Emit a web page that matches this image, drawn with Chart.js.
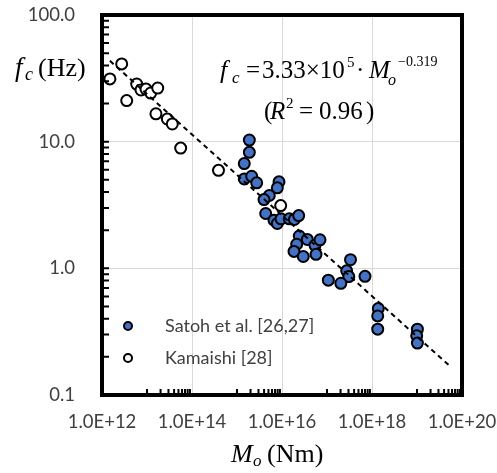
<html>
<head>
<meta charset="UTF-8">
<title>fc vs Mo</title>
<script src="https://cdn.jsdelivr.net/npm/chart.js@4.4.1/dist/chart.umd.min.js"></script>
<style>
body{margin:0;background:#fff;}
#wrap{width:497px;height:473px;}
</style>
</head>
<body>
<div id="wrap"><canvas id="myChart" width="497" height="473"></canvas></div>
<script>
// Satoh et al. [26,27] (filled)
var satohX = [1.88e15, 1.88e15, 1.45e15, 1.45e15, 2.12e15, 2.74e15, 8.58e15, 7.87e15, 5.22e15, 3.98e15,
              4.34e15, 6.64e15, 7.87e15, 9.5e15, 1.45e16, 1.88e16, 2.35e16, 2.42e16, 3.65e16, 2.12e16,
              1.85e16, 2.97e16, 5.41e16, 6.99e16, 5.7e16, 3.33e17, 2.74e17, 3.05e17, 1.07e17, 2.03e17,
              6.99e17, 1.38e18, 1.34e18, 1.34e18, 1.02e19, 9.85e18, 1.02e19];
var satohY = [10.3, 8.24, 6.72, 5.08, 5.33, 4.73, 4.82, 4.32, 3.76, 3.49,
              2.71, 2.40, 2.26, 2.46, 2.46, 2.43, 2.61, 1.80, 1.69, 1.55,
              1.36, 1.24, 1.52, 1.68, 1.29, 1.17, 0.955, 0.861, 0.807, 0.762,
              0.865, 0.482, 0.421, 0.331, 0.331, 0.293, 0.257];
// Kamaishi [28] (open)
var kamaishiX = [1.5e12, 2.74e12, 3.54e12, 5.9e12, 7.36e12, 9.5e12, 1.21e13, 1.73e13, 1.58e13, 2.83e13,
                 3.65e13, 5.6e13, 3.88e14, 9.35e15];
var kamaishiY = [31.3, 41.1, 21.1, 28.5, 25.6, 26.0, 24.2, 26.5, 16.6, 15.1,
                 13.8, 8.9, 5.94, 3.13];
// fitted line end points
var fitX = [1.5e12, 5.4e19];
var fitY = [43.5, 0.169];

var xTicks = [1e12, 1e14, 1e16, 1e18, 1e20];
var yTicks = [0.1, 1, 10, 100];

var toPts = function(xs, ys){
	var out = [];
	for (var i = 0; i < xs.length; i++) out.push({x: xs[i], y: ys[i]});
	return out;
};

var serif = "'Liberation Serif', 'DejaVu Serif', serif";
var sans = "Lato, 'Open Sans', sans-serif";

// each piece: [text, italic, x, baseline y, size]
var drawAt = function(ctx, pieces){
	ctx.textBaseline = "alphabetic";
	ctx.textAlign = "left";
	for (var i = 0; i < pieces.length; i++){
		var p = pieces[i];
		ctx.font = (p[1] ? "italic " : "") + p[4] + "px " + serif;
		ctx.fillText(p[0], p[2], p[3]);
	}
};

var extras = {
	id: "extras",
	afterDraw: function(chart){
		var ctx = chart.ctx;
		var a = chart.chartArea;
		var xs = chart.scales.x, ys = chart.scales.y;
		ctx.save();
		ctx.strokeStyle = "#000";
		// minor ticks y
		ctx.lineWidth = 2;
		ctx.beginPath();
		for (var d = 0.1; d < 100; d *= 10){
			for (var k = 1; k <= 9; k++){
				var py = ys.getPixelForValue(d * k);
				ctx.moveTo(a.left, py);
				ctx.lineTo(a.left + 7, py);
			}
		}
		// minor ticks x
		for (var m = 1e12; m < 1e20; m *= 100){
			for (var j = 1; j <= 9; j++){
				var px = xs.getPixelForValue(m * 10 * j);
				ctx.moveTo(px, a.bottom);
				ctx.lineTo(px, a.bottom - 6);
			}
		}
		ctx.stroke();
		// frame
		ctx.lineWidth = 4;
		ctx.strokeRect(a.left, a.top, a.right - a.left, a.bottom - a.top);

		ctx.fillStyle = "#000";
		// y title
		drawAt(ctx, [["f", true, 15, 76, 27], ["c", true, 25, 80, 18], ["(Hz)", false, 38, 76, 26]]);
		// x title
		drawAt(ctx, [["M", true, 231, 462, 26], ["o", true, 253, 466, 17], ["(Nm)", false, 267, 462, 26]]);
		// equation
		drawAt(ctx, [["f", true, 220, 78, 26], ["c", true, 232, 83, 17], ["=", false, 246, 78, 25],
			["3.33×10", false, 262, 78, 25], ["5", false, 347, 67, 15], ["·", false, 356, 78, 25],
			["M", true, 369, 78, 25], ["o", true, 388, 85, 16], ["−0.319", false, 398, 66, 14]]);
		drawAt(ctx, [["(", false, 264, 119, 25], ["R", true, 270, 119, 25], ["2", false, 286, 108, 15],
			["=", false, 299, 119, 25], ["0.96", false, 319, 119, 25], [")", false, 366, 119, 25]]);

		// legend
		var items = [["Satoh et al. [26,27]", "#4472C4", 326], ["Kamaishi [28]", "#ffffff", 358]];
		ctx.font = "18px " + sans;
		ctx.textBaseline = "middle";
		for (var n = 0; n < items.length; n++){
			ctx.beginPath();
			ctx.arc(128, items[n][2], 4, 0, Math.PI * 2);
			ctx.fillStyle = items[n][1];
			ctx.fill();
			ctx.lineWidth = 2;
			ctx.stroke();
			ctx.fillStyle = "#404040";
			ctx.fillText(items[n][0], 165, items[n][2]);
		}
		ctx.restore();
	}
};

var ctx = document.getElementById("myChart");
var myChart = new Chart(ctx, {
	type: "scatter",
	data: {
		datasets: [{
			type: "line",
			data: toPts(fitX, fitY),
			borderColor: "#000",
			borderWidth: 2,
			borderDash: [5, 4],
			pointRadius: 0,
			fill: false,
			order: 0
		}, {
			data: toPts(satohX, satohY),
			backgroundColor: "#4472C4",
			borderColor: "#000",
			borderWidth: 2,
			pointRadius: 5.5,
			order: 1
		}, {
			data: toPts(kamaishiX, kamaishiY),
			backgroundColor: "#ffffff",
			borderColor: "#000",
			borderWidth: 2,
			pointRadius: 5.5,
			order: 1
		}]
	},
	options: {
		responsive: false,
		animation: false,
		layout: {padding: {left: 0, top: 15, right: 35, bottom: 0}},
		plugins: {legend: {display: false}, tooltip: {enabled: false}},
		scales: {
			x: {
				type: "logarithmic",
				min: 1e12, max: 1e20,
				afterBuildTicks: function(s){ s.ticks = xTicks.map(function(v){ return {value: v}; }); },
				afterFit: function(s){ s.height = 78; s.paddingLeft = 0; s.paddingRight = 0; },
				grid: {color: "#d9d9d9", lineWidth: 1, drawTicks: false},
				border: {display: false},
				ticks: {
					color: "#404040",
					font: {family: sans, size: 18.5},
					padding: 16,
					maxRotation: 0,
					autoSkip: false,
					callback: function(v){ return "1.0E+" + Math.round(Math.log10(v)); }
				}
			},
			y: {
				type: "logarithmic",
				min: 0.1, max: 100,
				afterBuildTicks: function(s){ s.ticks = yTicks.map(function(v){ return {value: v}; }); },
				afterFit: function(s){ s.width = 102; s.paddingTop = 0; s.paddingBottom = 0; },
				grid: {color: "#d9d9d9", lineWidth: 1, drawTicks: false},
				border: {display: false},
				ticks: {
					color: "#404040",
					font: {family: sans, size: 18.5},
					padding: 27,
					autoSkip: false,
					callback: function(v){ return Number(v).toFixed(1); }
				}
			}
		}
	},
	plugins: [extras]
});
</script>
</body>
</html>
